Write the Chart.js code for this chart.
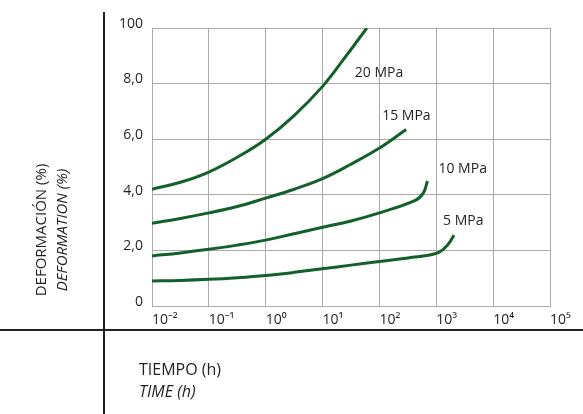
<!DOCTYPE html>
<html>
<head>
<meta charset="utf-8">
<script src="https://cdn.jsdelivr.net/npm/chart.js@4/dist/chart.umd.min.js"></script>
<style>
  html, body { margin: 0; padding: 0; background: #fff; }
  #wrap { width: 583px; height: 414px; }
</style>
</head>
<body>
<div id="wrap"><canvas id="creepChart"></canvas></div>
<script>
// ---- datos (tiempo en h, deformación en %)
const series = ['20 MPa', '15 MPa', '10 MPa', '5 MPa'];

const time20 = [0.01, 0.0316, 0.1, 0.316, 1, 3.16, 10, 25, 60];
const def20  = [4.2, 4.45, 4.82, 5.35, 6.0, 6.85, 7.9, 8.95, 10.0];

const time15 = [0.01, 0.0316, 0.1, 0.316, 1, 3.16, 10, 31.6, 100, 295];
const def15  = [2.98, 3.15, 3.35, 3.58, 3.88, 4.2, 4.58, 5.1, 5.68, 6.35];

const time10 = [0.01, 0.0316, 0.1, 0.316, 1, 3.16, 10, 31.6, 100, 427, 590, 700];
const def10  = [1.8, 1.91, 2.04, 2.19, 2.37, 2.6, 2.83, 3.06, 3.35, 3.8, 4.06, 4.5];

const time5 = [0.01, 0.0316, 0.1, 0.316, 1, 3.16, 10, 31.6, 100, 316, 1030, 1590, 2050];
const def5  = [0.9, 0.92, 0.96, 1.02, 1.1, 1.21, 1.34, 1.47, 1.6, 1.73, 1.9, 2.2, 2.55];

const xTicks = [1e-2, 1e-1, 1e0, 1e1, 1e2, 1e3, 1e4, 1e5];
const xTickLabels = ['10⁻²', '10⁻¹', '10⁰', '10¹', '10²', '10³', '10⁴', '10⁵'];
const yTickLabels = ['0', '2,0', '4,0', '6,0', '8,0', '100'];

const FONT = '"Open Sans", "Noto Sans", sans-serif';
const GREEN = '#12602a';
const INK = '#231f20';

function pts(t, d) {
  return t.map((v, i) => ({ x: v, y: d[i] }));
}

// desplazamiento de las etiquetas respecto al final de cada curva
const labelOffsets = [[-12, 45], [-24, -13], [11, -12], [-11, -14]];

const frame = {
  id: 'frame',
  afterDraw(chart) {
    const c = chart.ctx;
    c.save();
    // líneas negras del marco
    c.strokeStyle = INK;
    c.lineWidth = 2;
    c.beginPath();
    c.moveTo(104, 12); c.lineTo(104, 414);
    c.moveTo(0, 330); c.lineTo(583, 330);
    c.stroke();

    // títulos de los ejes
    c.fillStyle = INK;
    c.textBaseline = 'middle';
    c.textAlign = 'center';
    c.save();
    c.translate(42, 230);
    c.rotate(-Math.PI / 2);
    c.font = '15px ' + FONT;
    c.fillText('DEFORMACIÓN (%)', 0, 0);
    c.restore();
    c.save();
    c.translate(63, 230);
    c.rotate(-Math.PI / 2);
    c.font = 'italic 15px ' + FONT;
    c.fillText('DEFORMATION (%)', 0, 0);
    c.restore();

    c.textAlign = 'left';
    c.font = '16px ' + FONT;
    c.fillText('TIEMPO (h)', 139, 370);
    c.font = 'italic 16px ' + FONT;
    c.fillText('TIME (h)', 139, 392);

    // etiquetas de las curvas
    c.font = '14px ' + FONT;
    chart.data.datasets.forEach((ds, i) => {
      const meta = chart.getDatasetMeta(i);
      const last = meta.data[meta.data.length - 1];
      c.fillText(ds.label, last.x + labelOffsets[i][0], last.y + labelOffsets[i][1]);
    });
    c.restore();
  }
};

const ctx = document.getElementById('creepChart').getContext('2d');
const mk = (label, t, d) => ({
  label: label,
  data: pts(t, d),
  borderColor: GREEN,
  borderWidth: 3,
  pointRadius: 0,
  fill: false,
  tension: 0.4
});

new Chart(ctx, {
  type: 'line',
  data: {
    datasets: [
      mk(series[0], time20, def20),
      mk(series[1], time15, def15),
      mk(series[2], time10, def10),
      mk(series[3], time5, def5)
    ]
  },
  options: {
    responsive: true,
    maintainAspectRatio: false,
    animation: false,
    layout: { padding: { top: 28, right: 33, left: 0, bottom: 0 } },
    plugins: {
      legend: { display: false },
      tooltip: { enabled: false }
    },
    scales: {
      x: {
        type: 'logarithmic',
        min: 0.01,
        max: 1e5,
        afterBuildTicks: (scale) => { scale.ticks = xTicks.map(v => ({ value: v })); },
        afterFit: (scale) => { scale.height = 108; },
        grid: { color: '#ababab', lineWidth: 1, drawTicks: false },
        border: { color: '#ababab' },
        ticks: {
          align: 'start',
          autoSkip: false,
          maxRotation: 0,
          padding: 6,
          color: INK,
          font: { family: FONT, size: 14 },
          callback: (v, i) => xTickLabels[i]
        }
      },
      y: {
        min: 0,
        max: 10,
        afterBuildTicks: (scale) => { scale.ticks = [0, 2, 4, 6, 8, 10].map(v => ({ value: v })); },
        afterFit: (scale) => { scale.width = 152; },
        grid: { color: '#ababab', lineWidth: 1, drawTicks: false },
        border: { color: '#ababab' },
        ticks: {
          padding: 9,
          color: INK,
          font: { family: FONT, size: 14, lineHeight: 0.6 },
          callback: (v, i) => [yTickLabels[i], '']
        }
      }
    }
  },
  plugins: [frame]
});
</script>
</body>
</html>
